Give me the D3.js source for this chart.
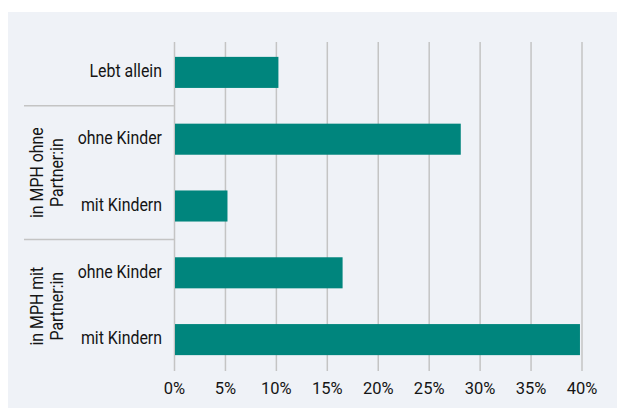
<!DOCTYPE html>
<html><head><meta charset="utf-8">
<script src="https://cdn.jsdelivr.net/npm/d3@7"></script>
<style>
html,body{margin:0;padding:0;background:#fff;}
svg{display:block;}
text{font-family:Roboto,"Liberation Sans",sans-serif;fill:#151515;}
</style></head><body>
<svg id="c" width="617" height="409"></svg>
<script>
const categories = ["Lebt allein","ohne Kinder","mit Kindern","ohne Kinder","mit Kindern"];
const values = [10.2, 28.1, 5.2, 16.5, 39.8];
const groups = [
  {lines:["in MPH ohne","Partner:in"], from:1, to:2},
  {lines:["in MPH mit","Partner:in"], from:3, to:4}
];
const ticks = [0,5,10,15,20,25,30,35,40];

const svg = d3.select("#c");
svg.append("rect").attr("x",8).attr("y",12).attr("width",609).attr("height",396).attr("fill","#eff2f7");

const x = d3.scaleLinear().domain([0,40]).range([174.5,582]);
const y = d3.scaleBand().domain(d3.range(categories.length)).range([39,373]).paddingInner(0.535).paddingOuter(0.2675);

const FS = 18.7;
// horizontal compression of the condensed look
const probe = svg.append("text").attr("font-size",FS).text("Lebt allein");
const squeeze = 72.5 / probe.node().getComputedTextLength();
probe.remove();
function condense(sel){
  sel.each(function(){
    const n = this; const w = n.getComputedTextLength();
    d3.select(n).attr("textLength", w*squeeze).attr("lengthAdjust","spacingAndGlyphs");
  });
}

// gridlines
svg.append("g").selectAll("line").data(ticks).join("line")
  .attr("x1",d=>x(d)).attr("x2",d=>x(d)).attr("y1",42).attr("y2",371)
  .attr("stroke","#c4c4c4").attr("stroke-width",1.5);

// group separators
const sepY = [y(1)-(y.step()-y.bandwidth())/2, y(3)-(y.step()-y.bandwidth())/2];
svg.append("g").selectAll("line").data(sepY).join("line")
  .attr("x1",24).attr("x2",174.5).attr("y1",d=>d).attr("y2",d=>d)
  .attr("stroke","#c4c4c4").attr("stroke-width",1.5);

// bars
svg.append("g").selectAll("rect").data(values).join("rect")
  .attr("x",x(0)+0.5).attr("y",(d,i)=>y(i)).attr("width",d=>x(d)-x(0)-0.5).attr("height",y.bandwidth())
  .attr("fill","#00857d");

// category labels
svg.append("g").selectAll("text").data(categories).join("text")
  .attr("x",162).attr("y",(d,i)=>y(i)+y.bandwidth()/2+4.8)
  .attr("text-anchor","end").attr("font-size",FS).text(d=>d).call(condense);

// group labels
groups.forEach(g=>{
  const cy = (y(g.from)+y(g.to)+y.bandwidth())/2;
  const t = svg.append("g").attr("transform",`translate(43,${cy}) rotate(-90)`);
  g.lines.forEach((l,i)=>t.append("text").attr("x",0).attr("y",i*20)
    .attr("text-anchor","middle").attr("font-size",FS).text(l).call(condense));
});

// x axis labels
svg.append("g").selectAll("text").data(ticks).join("text")
  .attr("x",d=>x(d)).attr("y",394).attr("text-anchor","middle").attr("font-size",16.5)
  .text(d=>d+"%");
</script></body></html>
